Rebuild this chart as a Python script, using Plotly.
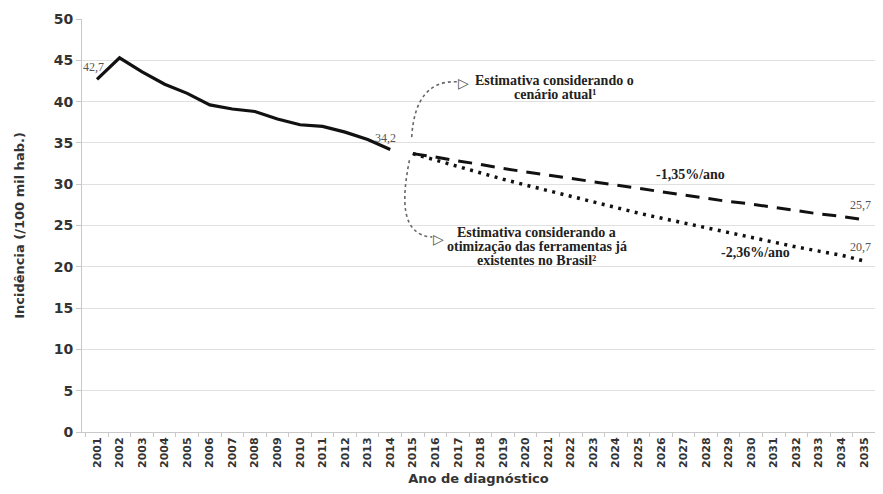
import plotly.graph_objects as go

# Observed incidence (2001-2014)
years_obs = list(range(2001, 2015))
inc_obs = [42.7, 45.3, 43.6, 42.1, 41.0, 39.6, 39.1, 38.8, 37.9, 37.2, 37.0, 36.3, 35.4, 34.2]

# Projections (2015-2035)
years_proj = list(range(2015, 2036))
proj_atual = [33.7, 33.3, 32.8, 32.4, 31.9, 31.5, 31.1, 30.7, 30.3, 29.9, 29.5,
              29.1, 28.7, 28.3, 27.9, 27.6, 27.2, 26.8, 26.4, 26.1, 25.7]
proj_otim = [33.7, 32.9, 32.1, 31.4, 30.6, 29.9, 29.2, 28.5, 27.8, 27.2, 26.5,
             25.9, 25.3, 24.7, 24.1, 23.5, 23.0, 22.4, 21.9, 21.4, 20.7]

tick_years = list(range(2001, 2036))
y_ticks = [0, 5, 10, 15, 20, 25, 30, 35, 40, 45, 50]

upper_lines = ["Estimativa considerando o", "cenário atual¹"]
lower_lines = ["Estimativa considerando a", "otimização das ferramentas já", "existentes no Brasil²"]

SANS = "DejaVu Sans"
SERIF = "Liberation Serif"
TXT = "#333333"

fig = go.Figure()
fig.add_trace(go.Scatter(x=years_obs, y=inc_obs, mode="lines",
                         line=dict(color="#111111", width=3.2), showlegend=False))
fig.add_trace(go.Scatter(x=years_proj, y=proj_atual, mode="lines",
                         line=dict(color="#111111", width=3, dash="14px,9px"), showlegend=False))
fig.add_trace(go.Scatter(x=years_proj, y=proj_otim, mode="lines",
                         line=dict(color="#111111", width=3.5, dash="3px,5.5px"), showlegend=False))

# curved dotted connectors
fig.add_shape(type="path", xref="x", yref="y",
              path="M 2014.95,35.7 Q 2015.1,42.6 2016.95,42.4",
              line=dict(color="#666666", width=1.6, dash="dot"))
fig.add_shape(type="path", xref="x", yref="y",
              path="M 2014.85,32.9 C 2014.5,28.1 2014.46,23.85 2015.86,23.6",
              line=dict(color="#666666", width=1.6, dash="dot"))

TFONT = dict(family=SERIF, size=14, color="#222")
ann = []
ann.append(dict(x=2017.25, y=42.2, text="▷", showarrow=False, font=dict(family=SANS, size=14, color="#555")))
ann.append(dict(x=2016.15, y=23.37, text="▷", showarrow=False, font=dict(family=SANS, size=14, color="#555")))
for i, t in enumerate(upper_lines):
    ann.append(dict(x=2021.3, y=42.5, yshift=-14 * i, text="<b>" + t + "</b>", showarrow=False, font=TFONT))
for i, t in enumerate(lower_lines):
    ann.append(dict(x=2020.5, y=24.2, yshift=-14 * i, text="<b>" + t + "</b>", showarrow=False, font=TFONT))
ann.append(dict(x=2027.3, y=31.2, text="<b>-1,35%/ano</b>", showarrow=False, font=TFONT))
ann.append(dict(x=2030.2, y=21.7, text="<b>-2,36%/ano</b>", showarrow=False, font=TFONT))
NFONT = dict(family=SERIF, size=12, color="#555")
ann.append(dict(x=2001, y=inc_obs[0], text="42,7", showarrow=False, xshift=-4, yshift=12, font=NFONT))
ann.append(dict(x=2014, y=inc_obs[-1], text="34,2", showarrow=False, xshift=-5, yshift=12, font=NFONT))
ann.append(dict(x=2035, y=proj_atual[-1], text="25,7", showarrow=False, xshift=-3, yshift=15, font=NFONT))
ann.append(dict(x=2035, y=proj_otim[-1], text="20,7", showarrow=False, xshift=-3, yshift=14, font=NFONT))

fig.update_layout(
    width=867, height=478,
    margin=dict(l=74, r=0, t=11, b=54),
    paper_bgcolor="white", plot_bgcolor="white",
    annotations=ann,
    xaxis=dict(range=[2000.335, 2035.488], tickmode="array", tickvals=tick_years,
               ticktext=[str(y) for y in tick_years], tickangle=-90, ticklabeloverflow="allow",
               tickfont=dict(family=SANS, size=11, color=TXT, weight="bold"),
               ticks="", showgrid=False, showline=True, linecolor="#c8c8c8", linewidth=1,
               minor=dict(tick0=2000.5, dtick=1, ticks="outside", ticklen=4, tickcolor="#c8c8c8"),
               title=dict(text="Ano de diagnóstico", standoff=10,
                          font=dict(family=SANS, size=13, color=TXT, weight="bold")),
               zeroline=False),
    yaxis=dict(range=[0, 50], tickmode="array", tickvals=y_ticks,
               tickfont=dict(family=SANS, size=14, color=TXT, weight="bold"),
               ticks="outside", ticklen=5, tickcolor="#c8c8c8",
               showgrid=True, gridcolor="#e0e0e0", gridwidth=1,
               showline=True, linecolor="#c8c8c8", linewidth=1, zeroline=False,
               title=dict(text="Incidência (/100 mil hab.)", standoff=26,
                          font=dict(family=SANS, size=13, color=TXT, weight="bold"))),
)

fig.write_html("out.html")
